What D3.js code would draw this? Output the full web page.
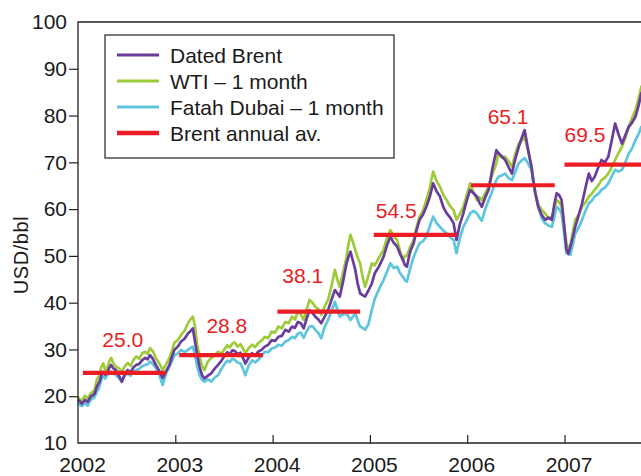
<!DOCTYPE html>
<html>
<head>
<meta charset="utf-8">
<script src="https://cdn.jsdelivr.net/npm/d3@7"></script>
<style>
  html, body { margin: 0; padding: 0; background: #fff; }
  svg { display: block; font-family: "Liberation Sans", Arial, Helvetica, sans-serif; }
</style>
</head>
<body>
<svg id="chart" width="641" height="476"></svg>
<script>
// Observation dates (decimal years)
const dates = [
  2002.00, 2002.02, 2002.04, 2002.07, 2002.10, 2002.13, 2002.17, 2002.195, 2002.22, 2002.24,
  2002.26, 2002.28, 2002.30, 2002.32, 2002.34, 2002.365, 2002.39, 2002.42, 2002.45, 2002.48,
  2002.51, 2002.54, 2002.57, 2002.60, 2002.63, 2002.66, 2002.69, 2002.715, 2002.74, 2002.77,
  2002.80, 2002.835, 2002.87, 2002.905, 2002.94, 2002.965, 2002.99, 2003.025, 2003.06, 2003.095,
  2003.13, 2003.155, 2003.18, 2003.20, 2003.225, 2003.25, 2003.275, 2003.30, 2003.335, 2003.37,
  2003.405, 2003.44, 2003.475, 2003.51, 2003.535, 2003.56, 2003.585, 2003.61, 2003.64, 2003.67,
  2003.695, 2003.72, 2003.755, 2003.79, 2003.82, 2003.85, 2003.885, 2003.92, 2003.955, 2003.99,
  2004.025, 2004.06, 2004.095, 2004.13, 2004.165, 2004.20, 2004.23, 2004.26, 2004.29, 2004.32,
  2004.35, 2004.38, 2004.41, 2004.44, 2004.47, 2004.50, 2004.535, 2004.57, 2004.605, 2004.64,
  2004.665, 2004.69, 2004.725, 2004.76, 2004.78, 2004.80, 2004.825, 2004.85, 2004.875, 2004.90,
  2004.925, 2004.95, 2004.985, 2005.02, 2005.05, 2005.095, 2005.14, 2005.175, 2005.21, 2005.245,
  2005.28, 2005.31, 2005.34, 2005.36, 2005.38, 2005.415, 2005.45, 2005.48, 2005.51, 2005.545,
  2005.58, 2005.615, 2005.65, 2005.685, 2005.72, 2005.755, 2005.79, 2005.825, 2005.86, 2005.89,
  2005.925, 2005.96, 2005.995, 2006.03, 2006.065, 2006.10, 2006.125, 2006.15, 2006.185, 2006.22,
  2006.26, 2006.30, 2006.32, 2006.355, 2006.39, 2006.425, 2006.46, 2006.495, 2006.53, 2006.56,
  2006.59, 2006.625, 2006.66, 2006.68, 2006.70, 2006.73, 2006.765, 2006.80, 2006.835, 2006.87,
  2006.895, 2006.92, 2006.945, 2006.97, 2006.995, 2007.02, 2007.04, 2007.06, 2007.085, 2007.11,
  2007.145, 2007.18, 2007.215, 2007.25, 2007.28, 2007.31, 2007.345, 2007.38, 2007.415, 2007.45,
  2007.485, 2007.52, 2007.555, 2007.59, 2007.625, 2007.66, 2007.695, 2007.73, 2007.76, 2007.79,
  2007.82
];

// WTI – 1 month (USD/bbl)
const wti = [
  19.9, 19.2, 19.0, 20.1, 19.5, 20.6, 21.3, 23.6, 24.5, 26.3,
  27.0, 25.6, 26.0, 27.4, 28.2, 27.0, 26.3, 26.0, 25.2, 26.4,
  27.1, 26.5, 27.8, 28.5, 28.0, 29.2, 29.5, 29.0, 30.3, 29.6,
  28.2, 27.0, 25.6, 26.8, 28.2, 29.6, 31.4, 32.0, 33.1, 34.0,
  35.6, 36.4, 37.0, 35.2, 31.0, 28.5, 26.5, 25.6, 27.4, 28.2,
  28.7, 29.5, 29.1, 30.2, 30.9, 30.4, 31.2, 31.5, 30.6, 31.1,
  30.2, 29.2, 30.3, 31.0, 30.5, 31.3, 31.9, 32.7, 32.4, 33.8,
  33.6, 34.9, 34.5, 35.9, 35.6, 37.0, 36.4, 38.1, 37.5, 36.3,
  38.6, 40.6, 40.0, 39.1, 38.6, 37.4, 39.2, 40.6, 43.5, 47.0,
  45.0, 43.4, 46.5, 49.8, 52.5, 54.5, 53.0, 51.3, 49.6, 48.4,
  45.5, 43.4, 45.8, 48.4, 48.0, 49.7, 51.3, 53.8, 55.5, 54.2,
  53.4, 51.0, 49.1, 50.0, 50.0, 52.0, 53.4, 56.2, 58.4, 59.6,
  61.9, 64.5, 68.0, 66.0, 64.8, 63.0, 61.9, 60.6, 59.8, 57.7,
  59.0, 60.5, 63.0, 65.5, 63.6, 61.9, 62.5, 61.9, 63.4, 64.8,
  67.5, 69.8, 71.9, 71.0, 71.2, 70.2, 69.1, 71.8, 74.0, 74.6,
  75.5, 72.5, 69.1, 66.0, 63.4, 61.0, 59.8, 59.1, 58.0, 58.4,
  60.2, 61.9, 61.5, 60.5, 56.5, 52.7, 51.5, 52.0, 55.0, 57.7,
  58.8, 60.5, 61.4, 62.7, 63.3, 64.1, 65.0, 66.2, 66.7, 67.6,
  69.0, 70.5, 72.0, 73.3, 75.2, 77.6, 79.5, 81.2, 83.5, 86.2,
  85.0
];

// Dated Brent (USD/bbl)
const brent = [
  19.3, 18.9, 18.4, 19.2, 18.8, 19.9, 20.5, 22.1, 23.0, 24.4,
  25.2, 24.6, 25.0, 26.0, 26.7, 25.9, 25.6, 24.4, 23.1, 24.7,
  25.6, 25.1, 26.2, 26.7, 26.9, 27.7, 28.2, 27.9, 28.8, 28.0,
  26.7, 25.4, 23.9, 25.3, 26.7, 28.4, 29.9, 30.6, 31.7, 32.3,
  33.4, 33.9, 34.5, 32.0, 28.8, 26.3, 24.5, 23.8, 24.4, 24.9,
  25.9, 26.7, 27.6, 28.8, 29.4, 28.9, 29.8, 29.7, 29.0, 29.3,
  28.2, 27.0, 28.3, 29.2, 28.7, 29.5, 29.9, 30.6, 31.0, 32.0,
  31.8, 32.7, 32.9, 34.2, 33.8, 34.9, 34.6, 35.9, 35.6, 34.5,
  36.6, 38.4, 37.8, 37.0, 36.4, 35.6, 37.0, 38.4, 40.6, 42.7,
  42.0, 41.3, 44.6, 48.4, 49.8, 50.9, 49.0, 47.0, 44.0, 42.0,
  41.6, 41.3, 42.6, 44.1, 46.3, 47.8, 49.8, 52.2, 54.1, 52.8,
  52.0, 50.4, 49.1, 48.0, 47.7, 51.0, 52.7, 55.5, 57.7, 58.8,
  60.5, 62.6, 65.5, 63.8, 62.7, 60.4, 59.1, 58.2, 57.0, 53.4,
  56.8, 59.1, 61.8, 64.1, 63.4, 62.7, 61.4, 60.5, 62.5, 64.1,
  68.8, 72.6, 72.0, 71.3, 70.5, 69.0, 67.6, 70.8, 73.3, 75.2,
  76.9, 72.8, 69.1, 66.0, 63.4, 60.5, 58.8, 57.7, 58.2, 57.7,
  61.0, 63.4, 63.0, 62.0, 56.8, 51.3, 50.4, 52.0, 54.0, 56.2,
  58.6, 61.2, 64.5, 67.6, 66.0, 66.9, 68.8, 70.5, 70.0, 71.2,
  74.6, 78.3, 76.0, 74.0, 75.8, 77.6, 78.5, 79.8, 82.0, 84.8,
  84.0
];

// Fatah Dubai – 1 month (USD/bbl)
const dubai = [
  18.8, 18.1, 17.9, 18.5, 18.0, 19.2, 19.8, 21.0, 22.0, 23.6,
  24.2, 23.8, 24.5, 24.8, 25.2, 24.9, 24.5, 23.9, 23.1, 24.3,
  24.9, 24.4, 25.3, 25.6, 25.9, 26.4, 26.7, 26.8, 27.4, 26.9,
  26.0, 24.6, 22.4, 24.8, 26.3, 27.5, 28.8, 29.1, 29.9, 29.4,
  29.9, 30.3, 30.6, 28.9, 26.4, 24.5, 23.5, 23.1, 23.6, 23.1,
  24.0, 24.5, 25.9, 27.0, 27.6, 27.3, 28.0, 27.8, 27.2, 27.0,
  25.9, 24.5, 26.6, 27.7, 27.2, 27.7, 28.6, 29.5, 29.4, 30.2,
  30.4, 31.0, 30.8, 31.7, 32.0, 32.7, 32.4, 33.4, 33.6, 32.5,
  33.9, 34.9, 35.0, 34.2, 33.5, 32.4, 34.8, 36.3, 38.2, 40.2,
  38.6, 37.0, 37.5, 37.7, 37.0, 36.3, 37.0, 37.7, 36.2, 34.9,
  34.6, 34.2, 35.4, 38.5, 40.8, 43.0, 44.8, 46.6, 48.4, 47.4,
  47.7, 46.3, 45.5, 44.8, 44.5, 47.5, 49.8, 51.3, 52.7, 53.1,
  54.1, 56.3, 58.4, 57.0, 56.2, 55.4, 54.8, 54.0, 53.4, 50.6,
  53.8, 56.2, 57.6, 59.1, 59.6, 59.1, 58.2, 57.5, 60.0, 61.9,
  64.0, 66.2, 66.9, 67.2, 67.6, 66.6, 66.2, 68.0, 69.8, 70.4,
  70.9, 69.8, 68.4, 65.8, 63.4, 60.5, 58.0, 57.0, 56.5, 56.2,
  58.3, 60.5, 60.0, 59.1, 55.0, 50.6, 51.0, 50.2, 52.4, 54.8,
  56.0, 57.7, 59.6, 61.2, 61.8, 62.7, 63.2, 64.1, 64.6, 65.5,
  67.0, 68.4, 68.0, 68.4, 70.0, 71.9, 73.0, 74.8, 76.0, 77.6,
  78.0
];

// Brent annual averages
const avgYears = [2002, 2003, 2004, 2005, 2006, 2007];
const avgValues = [25.0, 28.8, 38.1, 54.5, 65.1, 69.5];
const avgStart = [2002.05, 2003.04, 2004.05, 2005.04, 2006.04, 2007.0];
const avgEnd = [2002.90, 2003.90, 2004.90, 2005.89, 2006.90, 2007.95];
// Where each average value is written (year, USD/bbl)
const avgLabelX = [2002.46, 2003.53, 2004.31, 2005.27, 2006.42, 2007.21];
const avgLabelY = [30.5, 33.5, 44.2, 58.0, 78.2, 74.4];

const yTicks = [10, 20, 30, 40, 50, 60, 70, 80, 90, 100];
const xTicks = [2002, 2003, 2004, 2005, 2006, 2007];

const seriesNames = ["Dated Brent", "WTI – 1 month", "Fatah Dubai – 1 month", "Brent annual av."];
const seriesColors = ["#6a3c9c", "#9dcb3a", "#5ec6dc", "#ec1c24"];

const svg = d3.select("#chart");
const plotLeft = 78, plotTop = 22, plotBottom = 443;

const x = d3.scaleLinear().domain([2002, 2008]).range([plotLeft, plotLeft + 6 * 97.3]);
const y = d3.scaleLinear().domain([10, 100]).range([plotBottom, plotTop]);

const textColor = "#1a1a1a";
const axisColor = "#222";

// price lines: Dubai underneath, then WTI, then Brent
const line = d3.line().x(d => x(d[0])).y(d => y(d[1]));
const drawOrder = [
  { values: dubai, color: seriesColors[2] },
  { values: wti, color: seriesColors[1] },
  { values: brent, color: seriesColors[0] }
];
drawOrder.forEach(s => {
  svg.append("path")
    .datum(dates.map((d, i) => [d, s.values[i]]))
    .attr("d", line)
    .attr("fill", "none")
    .attr("stroke", s.color)
    .attr("stroke-width", 2.7)
    .attr("stroke-linejoin", "round");
});

// annual average bars
svg.append("g").selectAll("line")
  .data(avgValues)
  .join("line")
  .attr("x1", (d, i) => x(avgStart[i]))
  .attr("x2", (d, i) => x(avgEnd[i]))
  .attr("y1", d => y(d))
  .attr("y2", d => y(d))
  .attr("stroke", seriesColors[3])
  .attr("stroke-width", 4.2);

svg.append("g").selectAll("text")
  .data(avgValues)
  .join("text")
  .attr("x", (d, i) => x(avgLabelX[i]))
  .attr("y", (d, i) => y(avgLabelY[i]))
  .attr("text-anchor", "middle")
  .attr("font-size", 21)
  .attr("fill", seriesColors[3])
  .text(d => d.toFixed(1));

// axes
const yAxis = d3.axisLeft(y).tickValues(yTicks).tickSize(9).tickPadding(2);
const gy = svg.append("g").attr("transform", `translate(${plotLeft},0)`).call(yAxis);
gy.select(".domain").remove();
gy.selectAll(".tick line").attr("stroke", axisColor).attr("stroke-width", 1.2);
gy.selectAll(".tick text").attr("font-size", 21).attr("fill", textColor)
  .attr("font-family", "Liberation Sans, Arial, sans-serif");
gy.selectAll(".tick").filter(d => d === 100 || d === 10).select("line").remove();

const xAxis = d3.axisBottom(x).tickValues(xTicks).tickSize(-8).tickFormat(d3.format("d"));
const gx = svg.append("g").attr("transform", `translate(0,${plotBottom})`).call(xAxis);
gx.select(".domain").remove();
gx.selectAll(".tick line").attr("stroke", axisColor).attr("stroke-width", 1.2);
gx.selectAll(".tick").filter(d => d === 2002).select("line").remove();
gx.selectAll(".tick text").attr("font-size", 21).attr("fill", textColor)
  .attr("font-family", "Liberation Sans, Arial, sans-serif")
  .attr("y", 0).attr("dy", 0)
  .attr("transform", "translate(4,29)");

// plot frame: left, bottom and top edges
svg.append("path")
  .attr("d", `M${x.range()[1] + 20},${plotTop}H${plotLeft}V${plotBottom}H${x.range()[1] + 20}`)
  .attr("fill", "none")
  .attr("stroke", axisColor)
  .attr("stroke-width", 1.3);

// y axis title
svg.append("text")
  .attr("transform", "translate(28,255) rotate(-90)")
  .attr("text-anchor", "middle")
  .attr("font-size", 20)
  .attr("letter-spacing", 0.6)
  .attr("fill", textColor)
  .text("USD/bbl");

// legend
const legend = svg.append("g");
legend.append("rect")
  .attr("x", 105).attr("y", 35).attr("width", 289).attr("height", 123)
  .attr("fill", "#fff").attr("stroke", axisColor).attr("stroke-width", 1.2);
const rows = legend.selectAll("g.row")
  .data(seriesNames)
  .join("g")
  .attr("class", "row")
  .attr("transform", (d, i) => `translate(0,${55 + i * 26})`);
rows.append("line")
  .attr("x1", 117).attr("x2", 159)
  .attr("stroke", (d, i) => seriesColors[i])
  .attr("stroke-width", (d, i) => i === 3 ? 4.5 : 2.8);
rows.append("text")
  .attr("x", 170).attr("y", 7.5)
  .attr("font-size", 21)
  .attr("fill", textColor)
  .text(d => d);
</script>
</body>
</html>
